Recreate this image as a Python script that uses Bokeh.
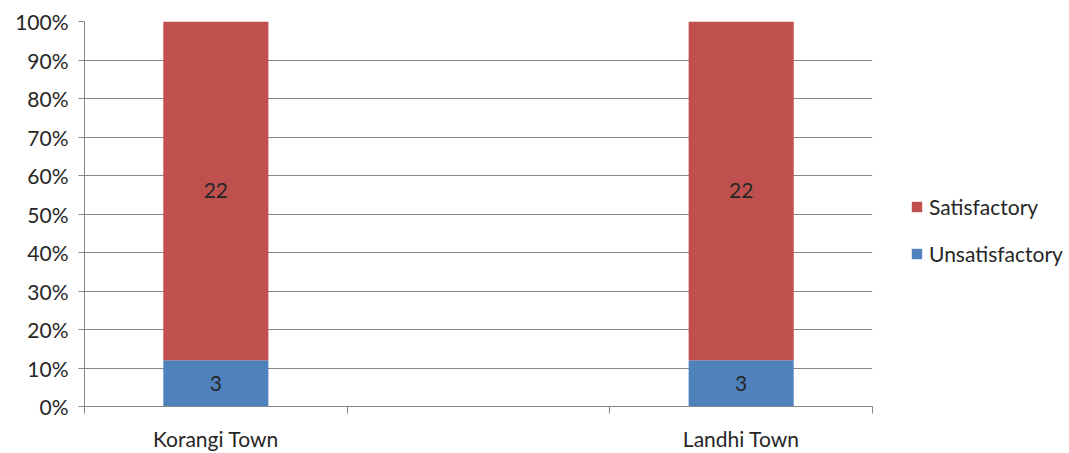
from bokeh.plotting import figure
from bokeh.models import (FixedTicker, NumeralTickFormatter, Legend, LegendItem,
                          ColumnDataSource, Range1d)
from bokeh.core.properties import value
from bokeh.embed import file_html
from bokeh.resources import INLINE

# ---- data ----
categories = ["Korangi Town", "", "Landhi Town"]
unsatisfactory = [3, None, 3]
satisfactory = [22, None, 22]
y_ticks = [0, 0.1, 0.2, 0.3, 0.4, 0.5, 0.6, 0.7, 0.8, 0.9, 1.0]

RED = "#C0504D"
BLUE = "#4F81BD"
GRID = "#868686"
TXT = "#262626"
FONT = "Lato"
FS = "21px"

xs, u_pct, s_pct, u_lbl, s_lbl, u_mid, s_mid = [], [], [], [], [], [], []
for i, (c, u, s) in enumerate(zip(categories, unsatisfactory, satisfactory)):
    if u is None:
        continue
    tot = u + s
    xs.append(i + 0.5)
    u_pct.append(u / tot)
    s_pct.append(s / tot)
    u_lbl.append(str(u))
    s_lbl.append(str(s))
    u_mid.append(u / tot / 2)
    s_mid.append(u / tot + s / tot / 2)

src = ColumnDataSource(dict(x=xs, u=u_pct, s=s_pct, ul=u_lbl, sl=s_lbl,
                            um=u_mid, sm=s_mid))

p = figure(frame_width=788, frame_height=385, output_backend="svg",
           toolbar_location=None,
           x_range=Range1d(0, len(categories)), y_range=Range1d(0, 1),
           min_border_left=84, min_border_right=197, min_border_top=21,
           min_border_bottom=47)
p.outline_line_color = None
p.background_fill_color = "white"
p.border_fill_color = "white"

r_u, r_s = p.vbar_stack(["u", "s"], x="x", width=0.4, source=src,
                        color=[BLUE, RED], line_color=None)

p.text(x="x", y="um", text="ul", source=src, text_align="center",
       text_baseline="middle", text_font=value(FONT), text_font_size=FS,
       text_color=TXT)
p.text(x="x", y="sm", text="sl", source=src, text_align="center",
       text_baseline="middle", text_font=value(FONT), text_font_size=FS,
       text_color=TXT)

# x axis
p.xaxis.ticker = FixedTicker(ticks=[i + 0.5 for i in range(len(categories))],
                             minor_ticks=list(range(len(categories) + 1)))
p.xaxis.major_label_overrides = {i + 0.5: c for i, c in enumerate(categories)}
p.xaxis.major_tick_line_color = None
p.xaxis.minor_tick_line_color = GRID
p.xaxis.minor_tick_out = 7
p.xaxis.minor_tick_in = 0
p.xaxis.axis_line_color = GRID
p.xaxis.major_label_standoff = 12
p.xaxis.major_label_text_font = FONT
p.xaxis.major_label_text_font_size = FS
p.xaxis.major_label_text_color = TXT
p.xgrid.grid_line_color = None

# y axis
p.yaxis.ticker = FixedTicker(ticks=y_ticks, minor_ticks=[])
p.yaxis.formatter = NumeralTickFormatter(format="0%")
p.yaxis.axis_line_color = GRID
p.yaxis.major_tick_line_color = GRID
p.yaxis.major_tick_out = 6
p.yaxis.major_tick_in = 0
p.yaxis.major_label_standoff = 10
p.yaxis.major_label_text_font = FONT
p.yaxis.major_label_text_font_size = FS
p.yaxis.major_label_text_color = TXT
p.ygrid.grid_line_color = GRID
p.ygrid.grid_line_width = 1

legend = Legend(items=[LegendItem(label="Satisfactory", renderers=[r_s]),
                       LegendItem(label="Unsatisfactory", renderers=[r_u])],
                location="top_left", orientation="vertical",
                title=" ", title_text_font_size="21px", title_standoff=111,
                glyph_width=13, glyph_height=13, label_height=20,
                spacing=22, padding=0, margin=38,
                label_text_font=FONT, label_text_font_size=FS,
                label_text_color=TXT, border_line_color=None,
                background_fill_alpha=0, label_standoff=6)
p.add_layout(legend, "right")

open("out.html", "w").write(file_html(p, INLINE))
